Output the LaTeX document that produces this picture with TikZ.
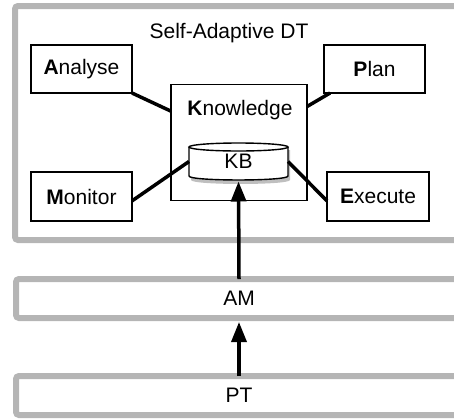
\documentclass[tikz,border=0pt]{standalone}
\usepackage{fontspec}
\setmainfont{Liberation Sans}
\usetikzlibrary{arrows.meta,calc}
\begin{document}
\begin{tikzpicture}[x=1pt,y=-1pt,
  every node/.style={font=\fontsize{21}{25}\selectfont, inner sep=0pt, outer sep=0pt},
  graybox/.style={draw=black!29, line width=6pt, rounded corners=3pt},
  mapebox/.style={draw=black, line width=1.4pt, fill=white},
  link/.style={line width=3.5pt},
  flow/.style={line width=3.5pt, -{Triangle[length=20pt,width=15pt]}}]
\useasboundingbox (0,0) rectangle (454,418);
\clip (0,0) rectangle (454,418);
% gray layers
\node[graybox, minimum width=455pt, minimum height=234pt] (DT) at (242.5,123) {};
\node[graybox, minimum width=454pt, minimum height=39pt] (AMbox) at (243,298.5) {};
\node[graybox, minimum width=454pt, minimum height=39pt] (PTbox) at (243,395.5) {};
\node (DTlabel) at (229,33) {Self-Adaptive DT};
\node (AM) at (239,298.5) {AM};
\node (PT) at (239,395.5) {PT};
% MAPE boxes
\node[mapebox, minimum width=101pt, minimum height=48pt] (Analyse) at (81.5,69) {\textbf{A}nalyse};
\node[mapebox, minimum width=101pt, minimum height=49pt] (Monitor) at (81.5,196.5) {\textbf{M}onitor};
\node[mapebox, minimum width=101pt, minimum height=48pt] (Plan) at (374.5,69) {\textbf{P}lan};
\node[mapebox, minimum width=102pt, minimum height=49pt] (Execute) at (378,196.5) {\textbf{E}xecute};
\node[mapebox, minimum width=136pt, minimum height=116pt] (Knowledge) at (239,142.5) {};
\node (Ktext) at (240,110) {\textbf{K}nowledge};
% KB cylinder
\node[minimum width=99pt, minimum height=37pt] (KB) at (238.5,161.5) {};
\fill[black, opacity=0.25] (191,150) -- (191,180) .. controls (191,185.3) and (290,185.3) .. (290,180) -- (290,150) -- cycle;
\draw[line width=1.4pt, fill=white] (189,147) -- (189,176) .. controls (189,181.3) and (288,181.3) .. (288,176) -- (288,147);
\draw[line width=1.4pt, fill=white] (238.5,147) ellipse [x radius=49.5, y radius=4];
\node at (KB.center) {KB};
% connectors
\draw[link] (Analyse.south east) -- ($(Knowledge.north west)!0.23!(Knowledge.south west)$);
\draw[link] ($(Knowledge.north east)!0.19!(Knowledge.south east)$) -- ($(Plan.south west)!0.06!(Plan.south east)$);
\draw[link] ($(Monitor.north east)!0.59!(Monitor.south east)$) -- (KB.west);
\draw[link] (KB.east) -- ($(Execute.north west)!0.59!(Execute.south west)$);
% arrows
\draw[flow, shorten >=1.5pt] (AMbox.north -| AM) -- (KB.south);
\draw[flow, shorten >=4pt] (PTbox.north -| PT) -- (AMbox.south -| AM);
\end{tikzpicture}
\end{document}
